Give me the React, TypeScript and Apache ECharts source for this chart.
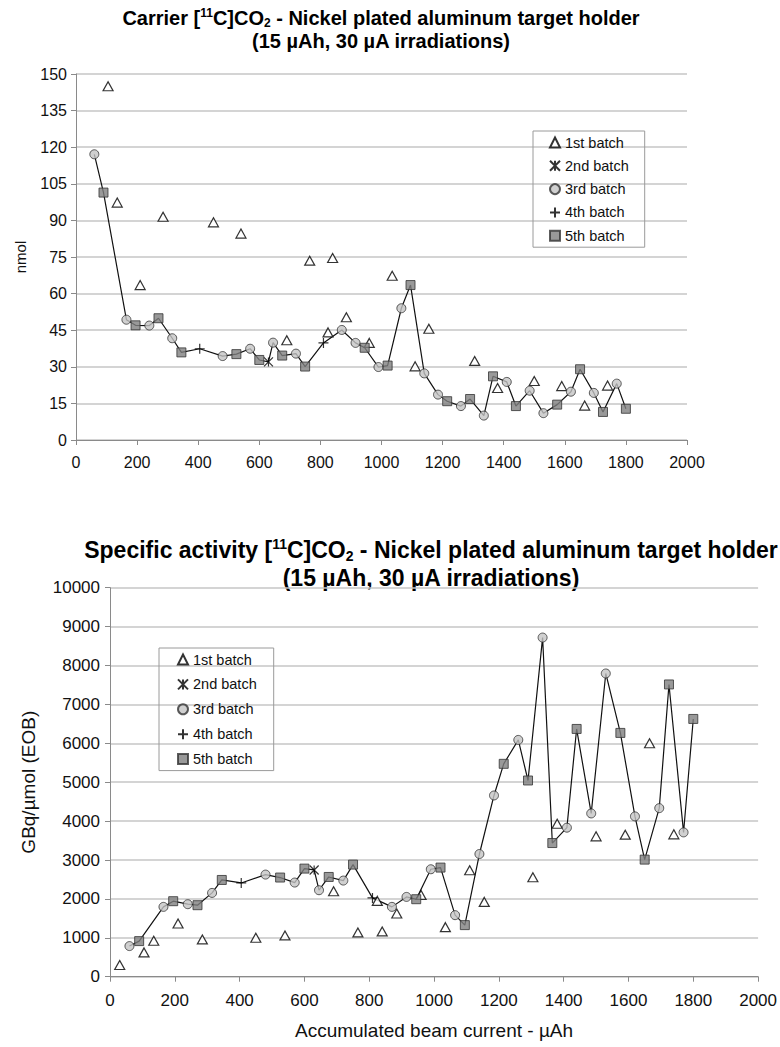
import React, { useEffect, useRef } from "react";
import * as echarts from "echarts";

// ---------- data ----------
const batchNames = ["1st batch", "2nd batch", "3rd batch", "4th batch", "5th batch"];

// Top chart: carrier (nmol)
const b1XTop = [105, 135, 210, 285, 450, 540, 690, 765, 825, 840, 885, 960, 1035, 1110, 1155, 1305, 1380, 1500, 1590, 1665, 1740];
const b1YTop = [145, 97.3, 63.5, 91.5, 89.2, 84.6, 40.9, 73.5, 44.1, 74.6, 50.3, 39.8, 67.3, 30.2, 45.6, 32.4, 21.3, 24.2, 22.1, 14.1, 22.3];

const b2X = [630];
const b2YTop = [32];
const b2YBot = [2744];

const b3X = [60, 165, 240, 315, 480, 570, 645, 720, 870, 915, 990, 1065, 1140, 1185, 1260, 1335, 1410, 1485, 1530, 1620, 1695, 1770];
const b3YTop = [117.1, 49.3, 46.9, 41.7, 34.4, 37.4, 39.9, 35.4, 45.1, 39.8, 29.9, 54, 27.3, 18.6, 13.9, 10, 23.8, 20.2, 11, 19.8, 19.3, 23.1];
const b3YBot = [787, 1795, 1864, 2154, 2625, 2420, 2223, 2471, 1795, 2051, 2762, 1582, 3154, 4659, 6087, 8718, 3831, 4197, 7795, 4121, 4333, 3710];

const b4X = [405, 810];
const b4YTop = [37.4, 39.8];
const b4YBot = [2410, 2026];

const b5X = [90, 195, 270, 345, 525, 600, 675, 750, 945, 1020, 1095, 1215, 1290, 1365, 1440, 1575, 1650, 1725, 1800];
const b5YTop = [101.4, 47, 49.9, 35.9, 35.2, 32.8, 34.6, 30.1, 37.8, 30.5, 63.5, 15.9, 16.8, 26.1, 13.9, 14.5, 29, 11.5, 12.8];
const b5YBot = [915, 1941, 1838, 2487, 2549, 2779, 2564, 2882, 1992, 2805, 1326, 5472, 5044, 3436, 6369, 6267, 3010, 7513, 6626];

// Bottom chart: specific activity (GBq/µmol)
const b1XBot = [30, 105, 135, 210, 285, 450, 540, 690, 765, 825, 840, 885, 960, 1035, 1110, 1155, 1305, 1380, 1500, 1590, 1665, 1740];
const b1YBot = [300, 625, 923, 1369, 958, 1000, 1061, 2197, 1138, 1949, 1164, 1625, 2103, 1274, 2736, 1923, 2556, 3933, 3608, 3651, 6000, 3659];

const xTicks = { min: 0, max: 2000, interval: 200 };
const yTopTicks = { min: 0, max: 150, interval: 15 };
const yBotTicks = { min: 0, max: 10000, interval: 1000 };

const FONT = "'Liberation Sans', Arial, Helvetica, sans-serif";

const zip = (xs: number[], ys: number[]) => xs.map((x, i) => [x, ys[i]]);

const PLUS = "path://M5,0L5,10M0,5L10,5";
const ASTER = "path://M0,0L10,10M10,0L0,10M5,0L5,10";

const batchStyles = [
  { symbol: "triangle", symbolSize: [10, 9], itemStyle: { color: "#ffffff", borderColor: "#000", borderWidth: 1.2 } },
  { symbol: ASTER, symbolSize: 9, itemStyle: { color: "rgba(0,0,0,0)", borderColor: "#000", borderWidth: 1.2 } },
  { symbol: "circle", symbolSize: 9, itemStyle: { color: "#c4c4c4", borderColor: "#333", borderWidth: 1 } },
  { symbol: PLUS, symbolSize: 10, itemStyle: { color: "rgba(0,0,0,0)", borderColor: "#000", borderWidth: 1.2 } },
  { symbol: "rect", symbolSize: 9, itemStyle: { color: "#808080", borderColor: "#333", borderWidth: 1 } },
];

function linePoints(sets: number[][][]) {
  const all: number[][] = [];
  sets.forEach((s) => s.forEach((p) => all.push(p)));
  all.sort((a, b) => a[0] - b[0]);
  return all;
}

function buildSeries(gridIndex: number, batches: number[][][]) {
  const out: any[] = [];
  out.push({
    type: "line",
    name: "_line" + gridIndex,
    xAxisIndex: gridIndex,
    yAxisIndex: gridIndex,
    data: linePoints(batches.slice(1)),
    symbol: "none",
    lineStyle: { color: "#111", width: 1.2 },
    silent: true,
    z: 2,
  });
  batches.forEach((d, i) => {
    out.push({
      type: "scatter",
      name: batchNames[i],
      xAxisIndex: gridIndex,
      yAxisIndex: gridIndex,
      data: d,
      ...batchStyles[i],
      z: 3,
    });
  });
  return out;
}

const axisLineStyle = { lineStyle: { color: "#8a8a8a", width: 1 } };
const splitStyle = { show: true, lineStyle: { color: "#c6c6c6", width: 1.5 } };
const plain = (v: number) => String(v);

function titleText(x: number, y: number, text: string, size: number) {
  const small = Math.round(size * 0.62);
  const shift = Math.round(size * 0.5);
  return {
    type: "text",
    x,
    y,
    style: {
      text,
      fill: "#000",
      fontFamily: FONT,
      fontSize: size,
      fontWeight: "bold",
      align: "center",
      verticalAlign: "middle",
      rich: {
        sup: { fontSize: small, fontWeight: "bold", fontFamily: FONT, fill: "#000", padding: [0, 0, shift, 0] },
        sub: { fontSize: small, fontWeight: "bold", fontFamily: FONT, fill: "#000", padding: [shift, 0, 0, 0] },
      },
    },
  };
}

export default function App() {
  const ref = useRef<HTMLDivElement>(null);
  useEffect(() => {
    document.body.style.margin = "0";
    const chart = echarts.init(ref.current!, undefined, { renderer: "svg" });
    const topBatches = [zip(b1XTop, b1YTop), zip(b2X, b2YTop), zip(b3X, b3YTop), zip(b4X, b4YTop), zip(b5X, b5YTop)];
    const botBatches = [zip(b1XBot, b1YBot), zip(b2X, b2YBot), zip(b3X, b3YBot), zip(b4X, b4YBot), zip(b5X, b5YBot)];
    const legendBase = {
      data: batchNames,
      orient: "vertical",
      itemWidth: 10,
      itemHeight: 10,
      borderColor: "#9a9a9a",
      borderWidth: 1,
      selectedMode: false,
      textStyle: { fontSize: 14.5, fontFamily: FONT, color: "#111" },
    };
    const xAxisBase = {
      type: "value",
      ...xTicks,
      axisLine: { show: true, ...axisLineStyle },
      axisTick: { show: true, length: 5, lineStyle: { color: "#8a8a8a" } },
      splitLine: { show: false },
    };
    chart.setOption({
      animation: false,
      backgroundColor: "#fff",
      grid: [
        { left: 76, top: 74, width: 611, height: 366 },
        { left: 110, top: 587.7, width: 650, height: 389 },
      ],
      xAxis: [
        {
          ...xAxisBase,
          gridIndex: 0,
          axisLabel: { fontSize: 16, fontFamily: FONT, color: "#111", margin: 14, formatter: plain },
        },
        {
          ...xAxisBase,
          gridIndex: 1,
          name: "Accumulated beam current - µAh",
          nameLocation: "middle",
          nameGap: 44,
          nameTextStyle: { fontSize: 19, fontFamily: FONT, color: "#111" },
          axisLabel: { fontSize: 17, fontFamily: FONT, color: "#111", margin: 15, formatter: plain },
        },
      ],
      yAxis: [
        {
          type: "value",
          gridIndex: 0,
          ...yTopTicks,
          name: "nmol",
          nameLocation: "middle",
          nameGap: 48,
          nameTextStyle: { fontSize: 15, fontFamily: FONT, color: "#111" },
          axisLine: { show: true, ...axisLineStyle },
          axisTick: { show: true, length: 5, lineStyle: { color: "#8a8a8a" } },
          splitLine: splitStyle,
          axisLabel: { fontSize: 16, fontFamily: FONT, color: "#111", margin: 9, formatter: plain },
        },
        {
          type: "value",
          gridIndex: 1,
          ...yBotTicks,
          name: "GBq/µmol (EOB)",
          nameLocation: "middle",
          nameGap: 72,
          nameTextStyle: { fontSize: 19, fontFamily: FONT, color: "#111" },
          axisLine: { show: true, ...axisLineStyle },
          axisTick: { show: true, length: 5, lineStyle: { color: "#8a8a8a" } },
          splitLine: splitStyle,
          axisLabel: { fontSize: 17, fontFamily: FONT, color: "#111", margin: 10, formatter: plain },
        },
      ],
      legend: [
        { ...legendBase, left: 533, top: 131, itemGap: 8.3, padding: [4, 16, 4, 16] },
        { ...legendBase, left: 159, top: 648, itemGap: 9.9, padding: [4, 17, 4, 18] },
      ],
      graphic: [
        titleText(381, 18, "Carrier [{sup|11}C]CO{sub|2} - Nickel plated aluminum target holder", 20),
        titleText(381, 41, "(15 µAh, 30 µA irradiations)", 20),
        titleText(431, 550, "Specific activity [{sup|11}C]CO{sub|2} - Nickel plated aluminum target holder", 23),
        titleText(431, 578, "(15 µAh, 30 µA irradiations)", 23),
      ],
      series: [...buildSeries(0, topBatches), ...buildSeries(1, botBatches)],
    });
    return () => chart.dispose();
  }, []);
  return <div ref={ref} style={{ width: 780, height: 1047 }} />;
}
